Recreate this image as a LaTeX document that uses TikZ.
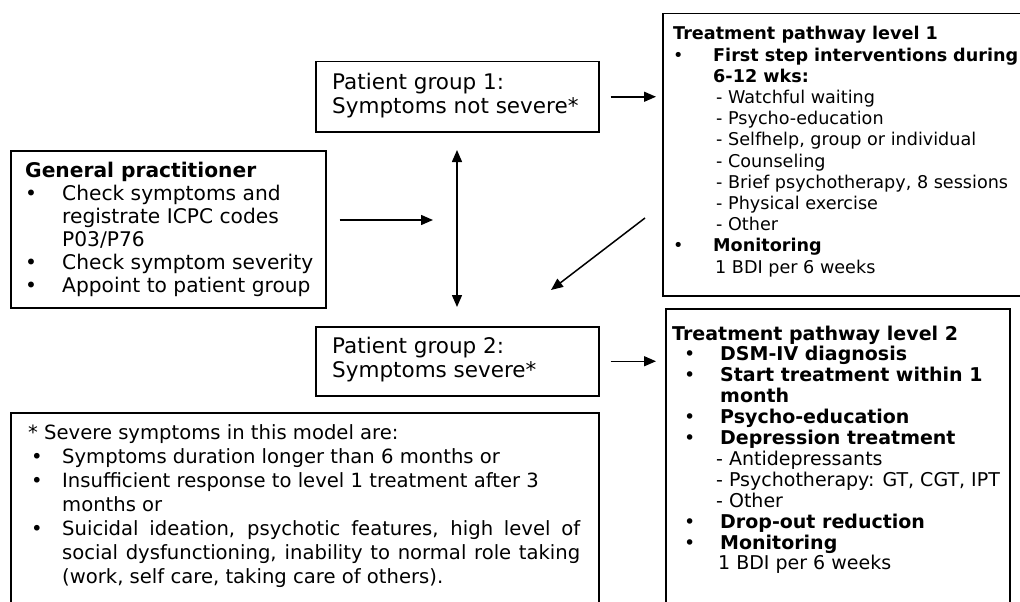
\documentclass[tikz,border=0pt]{standalone}
\usepackage{fontspec}
\setmainfont{DejaVu Sans}
\usetikzlibrary{arrows.meta,calc}
\tikzset{
  box/.style={draw=black, line width=1.5pt, anchor=north west, inner sep=0pt},
  txt/.style={anchor=base west, inner sep=0pt},
  arr/.style={line width=1.5pt, -{Triangle[length=12pt,width=10pt]}},
  darr/.style={line width=1.5pt, {Triangle[length=12pt,width=10pt]}-{Triangle[length=12pt,width=10pt]}},
}
\newcommand{\bul}[1]{\makebox[#1][l]{•}}
\begin{document}
\begin{tikzpicture}[x=1pt,y=-1pt]
\useasboundingbox (0,0) rectangle (1020,602);
\clip (0,0) rectangle (1020,602);

% boxes
\node[box, minimum width=315pt, minimum height=157pt] (gp) at (10,150) {};
\node[box, minimum width=283pt, minimum height=70pt] (pg1) at (315,61) {};
\node[box, minimum width=283pt, minimum height=69pt] (pg2) at (315,326) {};
\node[box, minimum width=380pt, minimum height=282pt] (tp1) at (662,13) {};
\node[box, minimum width=344pt, minimum height=320pt] (tp2) at (665,308) {};
\node[box, minimum width=588pt, minimum height=250pt] (fn) at (10,412) {};

% texts
\node[txt, font=\fontsize{20.2}{23}\selectfont] (gpt) at (25,177) {\parbox[t]{300pt}{\raggedright
\textbf{General practitioner}\\
\bul{37pt}Check symptoms and\\
\hspace*{37pt}registrate ICPC codes\\
\hspace*{37pt}P03/P76\\
\bul{37pt}Check symptom severity\\
\bul{37pt}Appoint to patient group}};

\node[txt, font=\fontsize{21.5}{24}\selectfont] (pg1t) at (332,89) {\parbox[t]{260pt}{\raggedright
Patient group 1:\\
Symptoms not severe*}};

\node[txt, font=\fontsize{21.5}{24}\selectfont] (pg2t) at (332,353) {\parbox[t]{260pt}{\raggedright
Patient group 2:\\
Symptoms severe*}};

\node[txt, font=\fontsize{17.6}{21.2}\selectfont] (tp1t) at (673,40) {\parbox[t]{345pt}{\raggedright
\textbf{Treatment pathway level 1}\\
\bul{40pt}\textbf{First step interventions during}\\
\hspace*{40pt}\textbf{6-12 wks:}\\
\hspace*{43pt}- Watchful waiting\\
\hspace*{43pt}- Psycho-education\\
\hspace*{43pt}- Selfhelp, group or individual\\
\hspace*{43pt}- Counseling\\
\hspace*{43pt}- Brief psychotherapy, 8 sessions\\
\hspace*{43pt}- Physical exercise\\
\hspace*{43pt}- Other\\
\bul{40pt}\textbf{Monitoring}\\
\hspace*{42pt}1 BDI per 6 weeks}};

\node[txt, font=\fontsize{19}{20.9}\selectfont] (tp2t) at (672,340) {\parbox[t]{340pt}{\raggedright
\textbf{Treatment pathway level 2}\\
\hspace*{12pt}\bul{36pt}\textbf{DSM-IV diagnosis}\\
\hspace*{12pt}\bul{36pt}\textbf{Start treatment within 1}\\
\hspace*{48pt}\textbf{month}\\
\hspace*{12pt}\bul{36pt}\textbf{Psycho-education}\\
\hspace*{12pt}\bul{36pt}\textbf{Depression treatment}\\
\hspace*{44pt}- Antidepressants\\
\hspace*{44pt}- Psychotherapy: GT, CGT, IPT\\
\hspace*{44pt}- Other\\
\hspace*{12pt}\bul{36pt}\textbf{Drop-out reduction}\\
\hspace*{12pt}\bul{36pt}\textbf{Monitoring}\\
\hspace*{46pt}1 BDI per 6 weeks}};

\node[txt, font=\fontsize{19.6}{24}\selectfont] (fnt) at (28,439) {\parbox[t]{565pt}{\raggedright
* Severe symptoms in this model are:\\
\hspace*{3pt}\bul{31pt}Symptoms duration longer than 6 months or\\
\hspace*{3pt}\bul{31pt}Insufficient response to level 1 treatment after 3\\
\hspace*{34pt}months or\\
\hspace*{3pt}\bul{31pt}\parbox[t]{518pt}{Suicidal ideation, psychotic features, high level of\linebreak social dysfunctioning, inability to normal role taking\linebreak (work, self care, taking care of others).}}};

% connectors
\coordinate (g2) at (433,220);
\coordinate (v1) at (457,150);
\coordinate (v2) at (457,307);
\coordinate (d1) at (645,218);
\coordinate (d2) at (551,290);
\draw[arr] ($(gp.east |- g2)+(13,0)$) -- (g2);
\draw[darr] (v1) -- (v2);
\draw[arr] ($(pg1.east)+(11,0)$) -- ($(pg1.east -| tp1.west)+(-6,0)$);
\draw[arr] ($(pg2.east)+(11,0)$) -- ($(pg2.east -| tp2.west)+(-9,0)$);
\draw[arr] (d1) -- (d2);
\end{tikzpicture}
\end{document}
